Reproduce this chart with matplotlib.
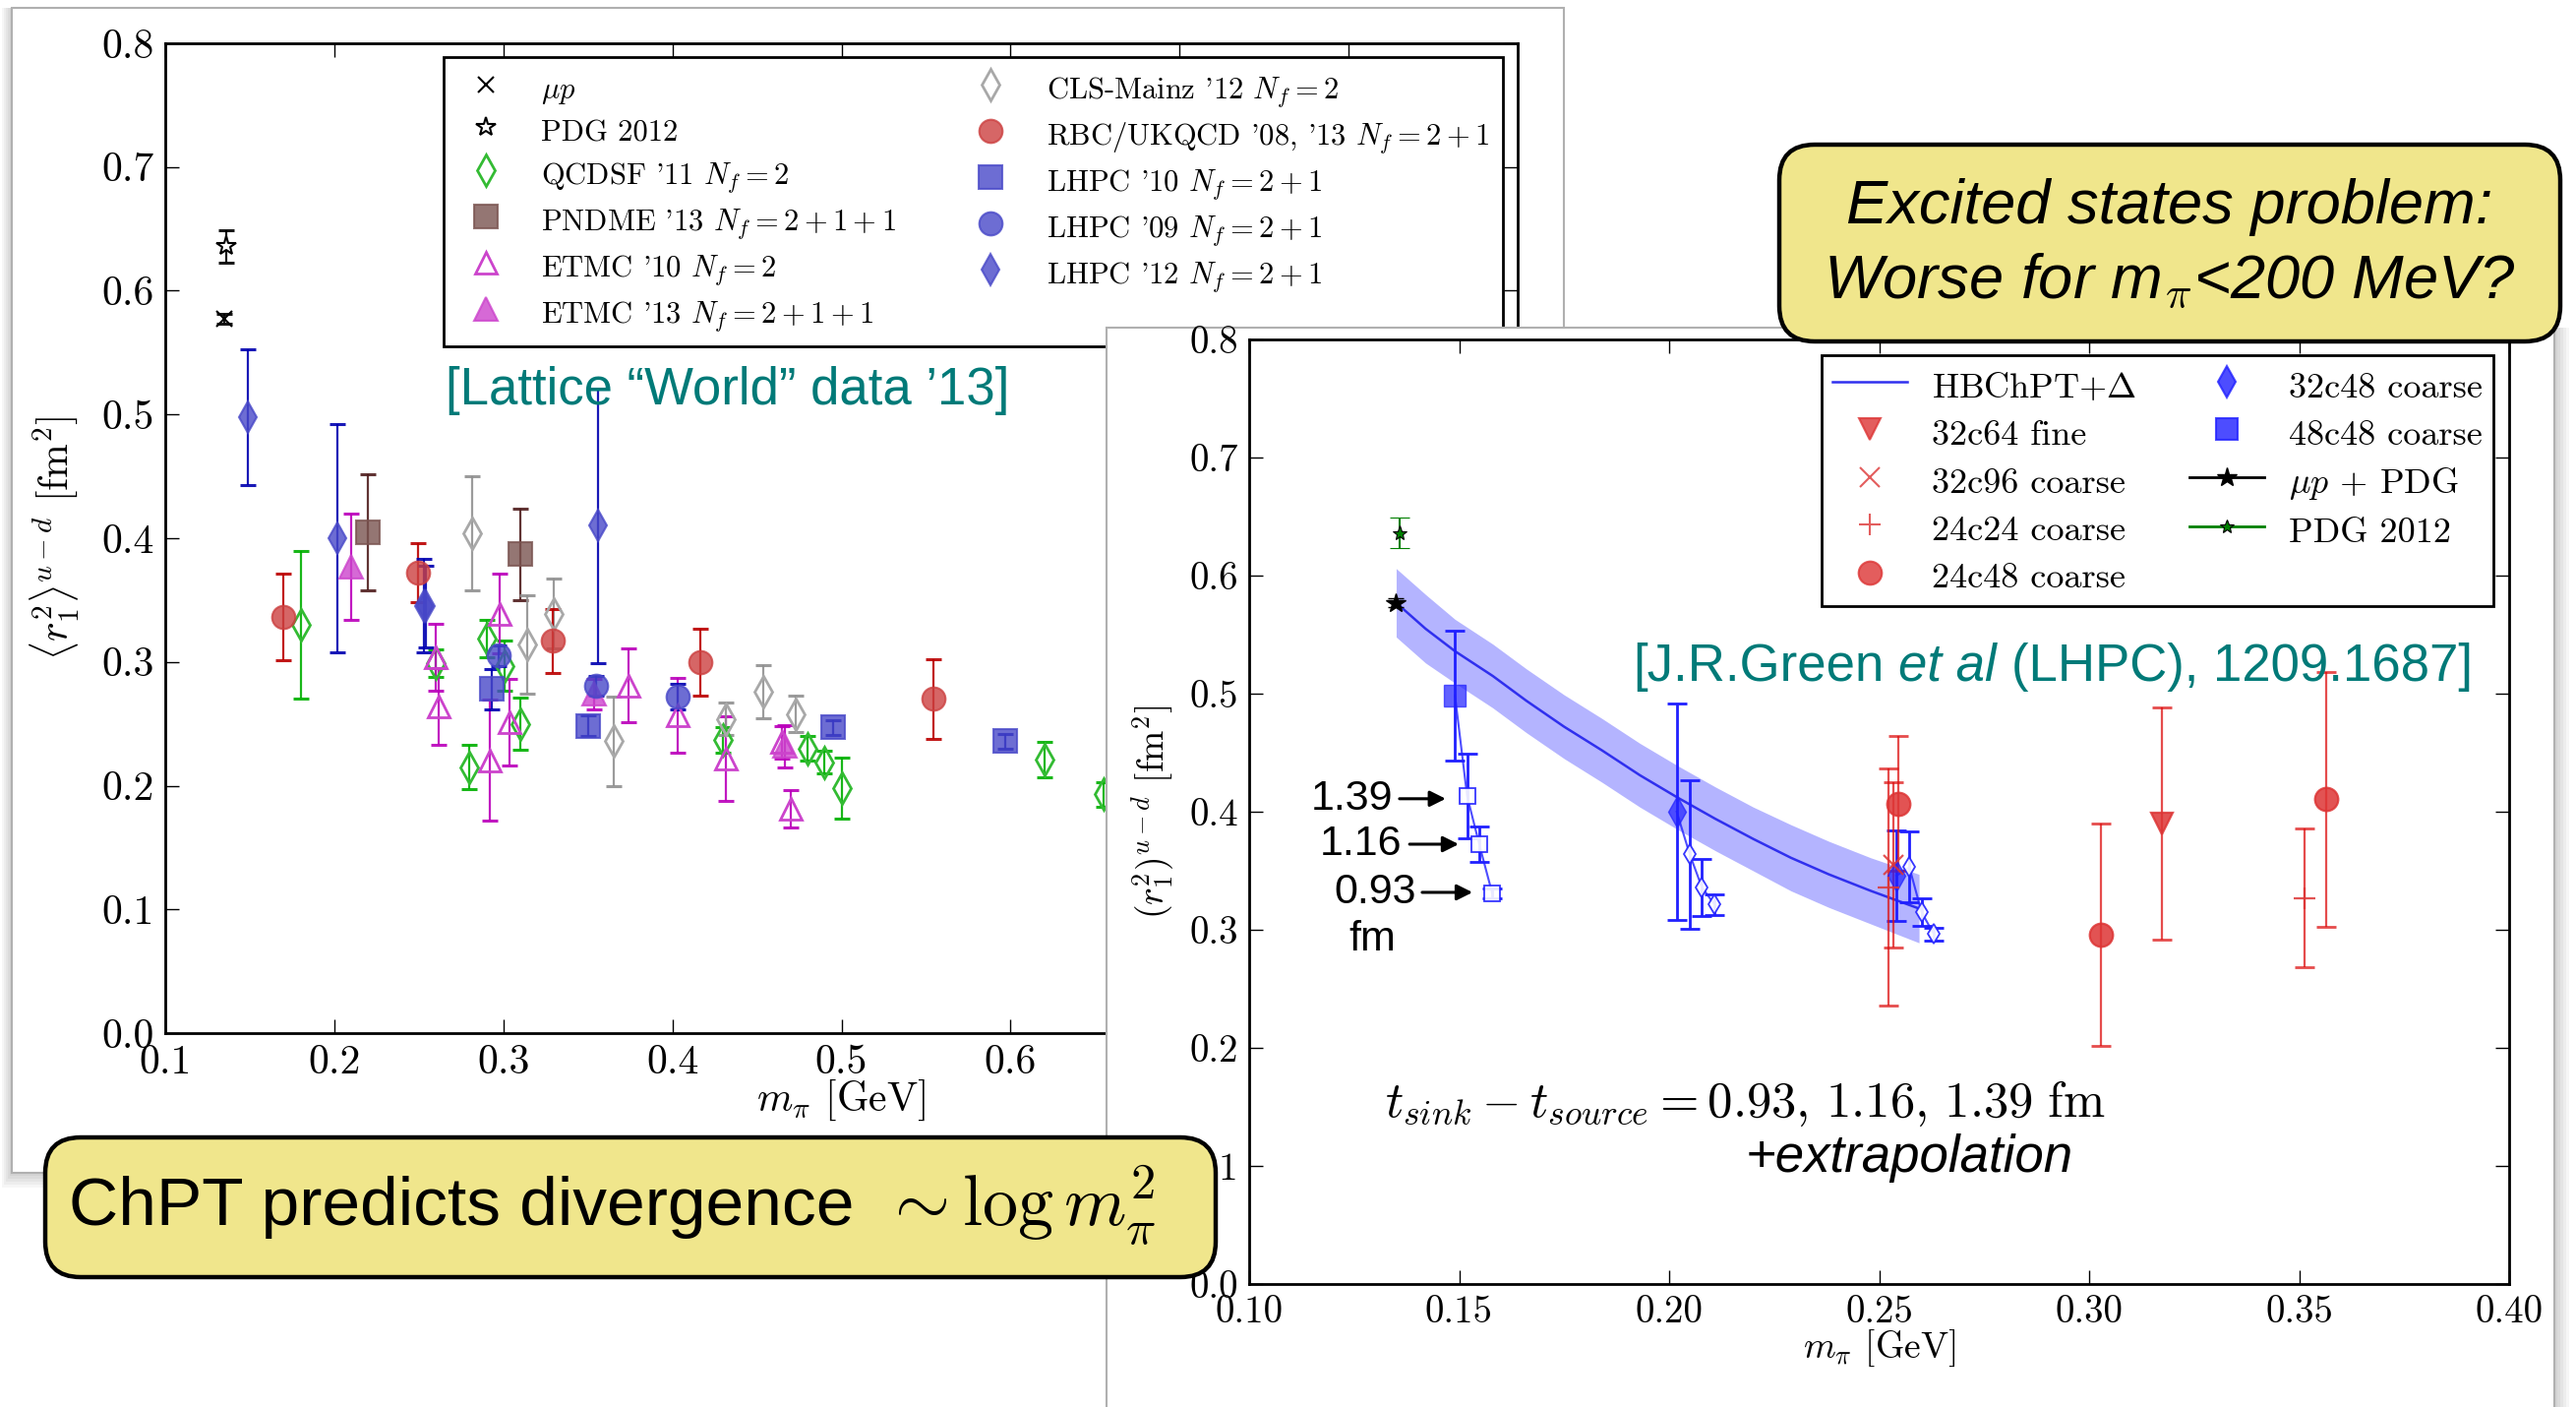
import matplotlib
matplotlib.use("Agg")
import matplotlib.pyplot as plt
from matplotlib.lines import Line2D
from matplotlib.patches import Rectangle, FancyBboxPatch
from matplotlib.transforms import IdentityTransform
from matplotlib.ticker import FormatStrFormatter, FuncFormatter, MultipleLocator
from matplotlib.offsetbox import TextArea, HPacker, AnnotationBbox

plt.rcParams["font.family"] = "cmr10"
plt.rcParams["mathtext.fontset"] = "cm"
plt.rcParams["axes.formatter.use_mathtext"] = True
plt.rcParams["axes.unicode_minus"] = False

W, H = 2619, 1430
SANS = ["Liberation Sans", "DejaVu Sans"]
TEAL = "#007a78"

# ---------------- left panel: lattice "world" data ----------------
mup_x, mup_y, mup_e = [0.1349], [0.577], [0.004]
pdg_x, pdg_y, pdg_e = [0.1358], [0.636], [0.013]

qcdsf_x = [0.180, 0.260, 0.280, 0.290, 0.301, 0.310, 0.430, 0.480, 0.490, 0.500, 0.620, 0.655]
qcdsf_y = [0.330, 0.299, 0.215, 0.319, 0.297, 0.250, 0.237, 0.230, 0.219, 0.198, 0.221, 0.193]
qcdsf_e = [0.060, 0.011, 0.018, 0.015, 0.020, 0.021, 0.010, 0.010, 0.009, 0.025, 0.014, 0.010]

pndme_x = [0.220, 0.310]
pndme_y = [0.405, 0.387]
pndme_e = [0.047, 0.037]

etmc10_x = [0.260, 0.262, 0.292, 0.298, 0.3035, 0.374, 0.403, 0.4316, 0.465, 0.470]
etmc10_y = [0.304, 0.264, 0.2205, 0.339, 0.251, 0.281, 0.257, 0.222, 0.235, 0.1815]
etmc10_e = [0.027, 0.031, 0.049, 0.032, 0.035, 0.030, 0.030, 0.034, 0.013, 0.015]

etmc13_x = [0.210, 0.3536, 0.4666]
etmc13_y = [0.377, 0.274, 0.232]
etmc13_e = [0.043, 0.012, 0.017]

cls_x = [0.2817, 0.314, 0.330, 0.3653, 0.4316, 0.454, 0.473]
cls_y = [0.404, 0.314, 0.339, 0.236, 0.254, 0.276, 0.258]
cls_e = [0.046, 0.040, 0.028, 0.036, 0.013, 0.0215, 0.015]

rbc_x = [0.170, 0.2495, 0.329, 0.4165, 0.5545]
rbc_y = [0.336, 0.372, 0.317, 0.300, 0.270]
rbc_e = [0.035, 0.024, 0.026, 0.027, 0.032]

lhpc10_x = [0.293, 0.350, 0.495, 0.597]
lhpc10_y = [0.278, 0.2485, 0.247, 0.236]
lhpc10_e = [0.016, 0.008, 0.006, 0.006]

lhpc09_x = [0.297, 0.355, 0.403]
lhpc09_y = [0.305, 0.281, 0.272]
lhpc09_e = [0.008, 0.008, 0.010]

lhpc12_x = [0.149, 0.202, 0.253, 0.254, 0.356]
lhpc12_y = [0.498, 0.400, 0.3455, 0.345, 0.410]
lhpc12_e = [0.055, 0.092, 0.038, 0.033, 0.111]

# ---------------- right panel: LHPC '12 ----------------
fit_x = [0.135, 0.142, 0.149, 0.158, 0.166, 0.175, 0.184, 0.193, 0.202, 0.211,
         0.220, 0.229, 0.238, 0.248, 0.2595]
fit_y = [0.577, 0.555, 0.536, 0.515, 0.494, 0.472, 0.452, 0.431, 0.412, 0.394,
         0.377, 0.361, 0.347, 0.333, 0.318]
fit_err = [0.029, 0.029, 0.027, 0.027, 0.027, 0.027, 0.027, 0.027, 0.027, 0.027,
           0.027, 0.028, 0.028, 0.028, 0.029]

# extrapolated value first, then tsep = 1.39, 1.16, 0.93 fm
sq_x = [0.149, 0.1519, 0.1548, 0.1579]
sq_y = [0.4986, 0.4133, 0.3722, 0.3306]
sq_e = [0.055, 0.036, 0.015, 0.004]

dmA_x = [0.2018, 0.2049, 0.2078, 0.2108]
dmA_y = [0.400, 0.364, 0.336, 0.3214]
dmA_e = [0.092, 0.063, 0.024, 0.009]

dmB_x = [0.2541, 0.2572, 0.2601, 0.2630]
dmB_y = [0.3458, 0.353, 0.315, 0.2964]
dmB_e = [0.038, 0.030, 0.012, 0.0055]

r32c64_x, r32c64_y, r32c64_e = [0.3174], [0.390], [0.0985]
r32c96_x, r32c96_y, r32c96_e = [0.2533], [0.355], [0.070]
r24c24_x, r24c24_y, r24c24_e = [0.2523, 0.3513], [0.336, 0.327], [0.1005, 0.059]
r24c48_x, r24c48_y, r24c48_e = [0.2546, 0.3027, 0.3565], [0.407, 0.296, 0.4105], [0.057, 0.094, 0.108]

tsep_labels = ["1.39", "1.16", "0.93"]


def rect(l, t, r, b):
    return [l / W, 1 - b / H, (r - l) / W, (b - t) / H]


def pix_rect(fig, l, t, r, b, z, fc="white", ec="#b0b0b0", lw=1.5, alpha=1.0):
    p = Rectangle((l, H - b), r - l, b - t, transform=IdentityTransform(),
                  fc=fc, ec=ec, lw=lw, alpha=alpha, zorder=z)
    fig.add_artist(p)


def callout(fig, l, t, r, b, z):
    p = FancyBboxPatch((l, H - b), r - l, b - t, transform=IdentityTransform(),
                       boxstyle="round,pad=0,rounding_size=36",
                       fc="#f0e68c", ec="black", lw=3.2, zorder=z)
    fig.add_artist(p)


def eb(ax, x, y, e, marker, ms, fc, ec, barc, alpha=0.8, mew=1.5, z=3):
    ax.errorbar(x, y, yerr=e, fmt="none", ecolor=barc, elinewidth=1.6,
                capsize=6, capthick=2.2, alpha=0.9, zorder=z)
    ax.plot(x, y, ls="none", marker=marker, ms=ms, mfc=fc, mec=ec,
            mew=mew, alpha=alpha, zorder=z + 0.1)


fig = plt.figure(figsize=(W / 100, H / 100), dpi=100)
fig.patch.set_facecolor("white")

# cards with soft shadows
for k in range(6):
    pix_rect(fig, 12 - 2 * k, 8, 1590, 1192 + 3 * k, 0.05, fc="#000000",
             ec="none", alpha=0.035)
pix_rect(fig, 12, 8, 1590, 1192, 0.1)
for k in range(6):
    pix_rect(fig, 1125, 333, 2597 + 3 * k, 1440, 0.8, fc="#000000",
             ec="none", alpha=0.035)
pix_rect(fig, 1125, 333, 2597, 1440, 0.85)

# ---------------- left axes ----------------
ax1 = fig.add_axes(rect(168, 44, 1543, 1050))
ax1.set_zorder(0.5)
ax1.set_xlim(0.1, 0.9)
ax1.set_ylim(0.0, 0.8)

GREEN, GREEN_B = "#33bb33", "#00b000"
MAG, MAG_B = "#cc44cc", "#bb00bb"
GREY, GREY_B = "#a8a8a8", "#909090"
RED, RED_B = "#cc4040", "#bb0000"
BLUE, BLUE_B = "#4848c8", "#0000b0"
BROWN, BROWN_B = "#7a5450", "#501e1e"

eb(ax1, mup_x, mup_y, mup_e, "x", 11, "k", "k", "k", alpha=1)
eb(ax1, pdg_x, pdg_y, pdg_e, "*", 15, "white", "k", "k", alpha=1)
eb(ax1, qcdsf_x, qcdsf_y, qcdsf_e, "d", 16, "none", GREEN, GREEN_B, alpha=1, mew=2)
eb(ax1, pndme_x, pndme_y, pndme_e, "s", 17, BROWN, BROWN, BROWN_B)
eb(ax1, etmc10_x, etmc10_y, etmc10_e, "^", 16, "none", MAG, MAG_B, alpha=1, mew=2)
eb(ax1, etmc13_x, etmc13_y, etmc13_e, "^", 17, MAG, MAG, MAG_B)
eb(ax1, cls_x, cls_y, cls_e, "d", 16, "none", GREY, GREY_B, alpha=1, mew=2)
eb(ax1, rbc_x, rbc_y, rbc_e, "o", 17, RED, RED, RED_B)
eb(ax1, lhpc10_x, lhpc10_y, lhpc10_e, "s", 17, BLUE, BLUE, BLUE_B)
eb(ax1, lhpc09_x, lhpc09_y, lhpc09_e, "o", 17, BLUE, BLUE, BLUE_B)
eb(ax1, lhpc12_x, lhpc12_y, lhpc12_e, "d", 16, BLUE, BLUE, BLUE_B)

ax1.xaxis.set_major_locator(MultipleLocator(0.1))
ax1.yaxis.set_major_locator(MultipleLocator(0.1))
# labels beyond 0.6 sit under the second card, as on the slide
ax1.xaxis.set_major_formatter(FuncFormatter(lambda v, p: f"{v:.1f}" if v < 0.65 else ""))
ax1.yaxis.set_major_formatter(FormatStrFormatter("%.1f"))
ax1.tick_params(direction="in", top=True, right=True, length=10, width=1,
                labelsize=30, pad=8)
for s in ax1.spines.values():
    s.set_linewidth(2)
ax1.set_xlabel(r"$m_\pi$ [GeV]", fontsize=30)
ax1.set_ylabel(r"$\langle r_1^2\rangle^{u-d}$ [fm$^2$]", fontsize=30)
ax1.xaxis.set_label_coords(0.5, -0.045)
ax1.yaxis.set_label_coords(-0.062, 0.5)


def h(marker, ms, fc, ec, mew=1.5, alpha=0.8):
    return Line2D([], [], ls="none", marker=marker, ms=ms, mfc=fc, mec=ec,
                  mew=mew, alpha=alpha)


leg1_handles = [
    h("x", 11, "k", "k", alpha=1),
    h("*", 15, "white", "k", alpha=1),
    h("d", 16, "none", GREEN, mew=2, alpha=1),
    h("s", 17, BROWN, BROWN),
    h("^", 16, "none", MAG, mew=2, alpha=1),
    h("^", 17, MAG, MAG),
    h("d", 16, "none", GREY, mew=2, alpha=1),
    h("o", 17, RED, RED),
    h("s", 17, BLUE, BLUE),
    h("o", 17, BLUE, BLUE),
    h("d", 16, BLUE, BLUE),
]
leg1_labels = [
    r"$\mu p$",
    "PDG 2012",
    r"QCDSF '11 $N_f=2$",
    r"PNDME '13 $N_f=2+1+1$",
    r"ETMC '10 $N_f=2$",
    r"ETMC '13 $N_f=2+1+1$",
    r"CLS-Mainz '12 $N_f=2$",
    r"RBC/UKQCD '08, '13 $N_f=2+1$",
    r"LHPC '10 $N_f=2+1$",
    r"LHPC '09 $N_f=2+1$",
    r"LHPC '12 $N_f=2+1$",
]
leg1 = ax1.legend(leg1_handles, leg1_labels, ncol=2, loc="upper right",
                  bbox_to_anchor=(0.989, 0.986), fontsize=22, frameon=True,
                  fancybox=False, edgecolor="black", framealpha=1,
                  borderaxespad=0, borderpad=0.45, handlelength=1.9,
                  handleheight=1.4, handletextpad=0.9, labelspacing=0.26,
                  columnspacing=2.2)
leg1.get_frame().set_linewidth(2)

fig.text(740 / W, 1 - 397 / H, "[Lattice \u201cWorld\u201d data \u201913]",
         family=SANS, fontsize=38, color=TEAL, ha="center", va="center",
         zorder=0.6)

# ---------------- right axes ----------------
ax2 = fig.add_axes(rect(1270, 345, 2551, 1305))
ax2.set_zorder(1.0)
ax2.set_xlim(0.10, 0.40)
ax2.set_ylim(0.0, 0.8)

FIT = "#3030ee"
BAND = "#b4b4ff"
lo = [c - e for c, e in zip(fit_y, fit_err)]
hi = [c + e for c, e in zip(fit_y, fit_err)]
ax2.fill_between(fit_x, lo, hi, color=BAND, lw=0, zorder=1)
ax2.plot(fit_x, fit_y, color=FIT, lw=1.8, zorder=2)

B2 = "#2020ff"
R2, R2B = "#dd3535", "#dd1010"


def chain(ax, x, y, e, marker, ms_big, ms_small):
    ax.errorbar(x, y, yerr=e, fmt="none", ecolor=B2, elinewidth=2,
                capsize=7, capthick=2, zorder=3)
    ax.plot(x, y, color=B2, lw=1.5, alpha=0.8, zorder=3)
    ax.plot(x[1:], y[1:], ls="none", marker=marker, ms=ms_small, mfc="white",
            mec=B2, mew=1.3, alpha=0.9, zorder=4)
    ax.plot(x[:1], y[:1], ls="none", marker=marker, ms=ms_big, mfc=B2,
            mec=B2, alpha=0.7, zorder=4)


chain(ax2, sq_x, sq_y, sq_e, "s", 16, 11)
chain(ax2, dmA_x, dmA_y, dmA_e, "d", 16, 10)
chain(ax2, dmB_x, dmB_y, dmB_e, "d", 16, 10)


def red(ax, x, y, e, marker, ms, filled=True):
    ax.errorbar(x, y, yerr=e, fmt="none", ecolor=R2B, elinewidth=1.6,
                capsize=7, capthick=2, alpha=0.75, zorder=3)
    ax.plot(x, y, ls="none", marker=marker, ms=ms, mfc=R2 if filled else "none",
            mec=R2, mew=1.6, alpha=0.85, zorder=4)


red(ax2, r32c64_x, r32c64_y, r32c64_e, "v", 16)
red(ax2, r32c96_x, r32c96_y, r32c96_e, "x", 14)
red(ax2, r24c24_x, r24c24_y, r24c24_e, "+", 16)
red(ax2, r24c48_x, r24c48_y, r24c48_e, "o", 17)

ax2.errorbar(pdg_x[:1], pdg_y, yerr=pdg_e, fmt="*", ms=11, mfc="green",
             mec="k", mew=0.8, ecolor="green", elinewidth=1.5, capsize=7,
             capthick=1.5, zorder=5)
ax2.errorbar(mup_x, mup_y, yerr=mup_e, fmt="*", ms=15, mfc="k", mec="k",
             ecolor="k", capsize=6, zorder=5)

ax2.xaxis.set_major_locator(MultipleLocator(0.05))
ax2.yaxis.set_major_locator(MultipleLocator(0.1))
ax2.xaxis.set_major_formatter(FormatStrFormatter("%.2f"))
ax2.yaxis.set_major_formatter(FormatStrFormatter("%.1f"))
ax2.tick_params(direction="in", top=True, right=True, length=10, width=1,
                labelsize=28, pad=8)
for s in ax2.spines.values():
    s.set_linewidth(2)
ax2.set_xlabel(r"$m_\pi$ [GeV]", fontsize=27)
ax2.set_ylabel(r"$(r_1^2)^{u-d}$ [fm$^2$]", fontsize=27)
ax2.xaxis.set_label_coords(0.5, -0.047)
ax2.yaxis.set_label_coords(-0.058, 0.5)

leg2_handles = [
    Line2D([], [], color=FIT, lw=1.8),
    h("v", 16, R2, R2),
    h("x", 14, R2, R2),
    h("+", 16, R2, R2),
    h("o", 17, R2, R2),
    h("d", 16, B2, B2),
    h("s", 16, B2, B2),
    Line2D([], [], color="k", lw=2, marker="*", ms=15),
    Line2D([], [], color="green", lw=2, marker="*", ms=10, mfc="green", mec="k", mew=0.8),
]
leg2_labels = [r"HBChPT+$\Delta$", "32c64 fine", "32c96 coarse", "24c24 coarse",
               "24c48 coarse", "32c48 coarse", "48c48 coarse", r"$\mu p$ + PDG",
               "PDG 2012"]
leg2 = ax2.legend(leg2_handles, leg2_labels, ncol=2, loc="upper right",
                  bbox_to_anchor=(0.9875, 0.983), fontsize=26, frameon=True,
                  fancybox=False, edgecolor="black", framealpha=1,
                  borderaxespad=0, borderpad=0.3, handlelength=2.1,
                  handleheight=1.3, handletextpad=0.7, labelspacing=0.25,
                  columnspacing=1.5)
leg2.get_frame().set_linewidth(2)

# tsep annotations: number, then an arrow pointing at the open marker
num_right_x = [0.1342, 0.1363, 0.1398]
arrow_tail_x = [0.1358, 0.1382, 0.1412]
arrow_tip_x = [0.1468, 0.1499, 0.1532]
lab_y = [0.411, 0.3725, 0.3317]
for t, nx, ax_, tx, ly in zip(tsep_labels, num_right_x, arrow_tail_x, arrow_tip_x, lab_y):
    ax2.text(nx, ly, t, family=SANS, fontsize=31, ha="right", va="center",
             zorder=6)
    ax2.annotate("", xy=(tx, ly), xytext=(ax_, ly),
                 arrowprops=dict(arrowstyle="-|>", color="k", lw=2.2,
                                 mutation_scale=24, shrinkA=0, shrinkB=0),
                 zorder=6)
ax2.text(0.1293, 0.2917, "fm", family=SANS, fontsize=31, ha="center",
         va="center", zorder=6)

cite = HPacker(children=[
    TextArea("[J.R.Green", textprops=dict(family=SANS, fontsize=38, color=TEAL)),
    TextArea("et al", textprops=dict(family=SANS, fontsize=38, color=TEAL, style="italic")),
    TextArea("(LHPC), 1209.1687]", textprops=dict(family=SANS, fontsize=38, color=TEAL)),
], sep=10.5, pad=0, align="baseline")
ab = AnnotationBbox(cite, (2087, H - 678), xycoords="figure pixels",
                    frameon=False, box_alignment=(0.5, 0.5), pad=0)
ab.set_zorder(1.05)
fig.add_artist(ab)

fig.text(1408 / W, 1 - 1122 / H,
         r"$t_{sink}-t_{source}=0.93,\,1.16,\,1.39\ \mathrm{fm}$",
         fontsize=36.5, ha="left", va="center", zorder=1.1)
fig.text(1775 / W, 1 - 1177 / H, "+extrapolation", family=SANS, style="italic",
         fontsize=38, ha="left", va="center", zorder=1.1)

# ---------------- callouts ----------------
callout(fig, 1809, 147, 2603, 347, 2.0)
fig.text(2206 / W, 1 - 210 / H, "Excited states problem:", family=SANS,
         style="italic", fontsize=45.5, ha="center", va="center", zorder=2.1)
fig.text(2206 / W, 1 - 286 / H, r"Worse for m$_\pi$<200 MeV?", family=SANS,
         style="italic", fontsize=45.5, ha="center", va="center", zorder=2.1)

callout(fig, 46, 1156, 1236, 1298, 2.0)
fig.text(70 / W, 1 - 1227 / H, "ChPT predicts divergence",
         family=SANS, fontsize=50, ha="left", va="center", zorder=2.1)
fig.text(897 / W, 1 - 1225 / H, r"$\sim\log m_\pi^2$",
         fontsize=52, ha="left", va="center", zorder=2.1)

fig.savefig("out.png", dpi=100)
